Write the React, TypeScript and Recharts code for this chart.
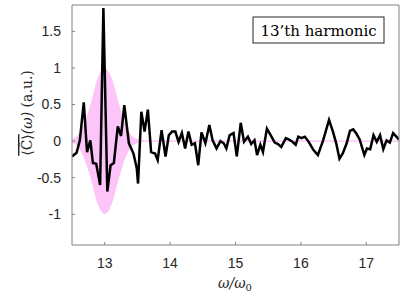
import * as React from "react";
import { ComposedChart, Area, Line, XAxis, YAxis } from "recharts";

const W = 402;
const H = 295;

const AXIS = "#808080";
const TEXT = "#262626";
const PINK = "#fcc4f8";

// signal samples
const OMEGA = [
  12.5, 12.57, 12.62, 12.68, 12.73, 12.78, 12.82, 12.87, 12.93, 12.98,
  13.04, 13.09, 13.14, 13.2, 13.25, 13.3, 13.37, 13.44, 13.49, 13.51,
  13.56, 13.61, 13.66, 13.71, 13.77, 13.81, 13.87, 13.93, 13.98, 14.03,
  14.08, 14.13, 14.18, 14.23, 14.28, 14.33, 14.38, 14.43, 14.48, 14.54,
  14.6, 14.65, 14.71, 14.77, 14.82, 14.86, 14.91, 14.97, 15.02, 15.08,
  15.13, 15.19, 15.24, 15.29, 15.33, 15.38, 15.42, 15.48, 15.55, 15.6,
  15.65, 15.7, 15.77, 15.82, 15.87, 15.92, 15.96, 16.01, 16.06, 16.12,
  16.19, 16.26, 16.34, 16.43, 16.49, 16.54, 16.59, 16.64, 16.7, 16.75,
  16.8, 16.85, 16.9, 16.97, 17.01, 17.06, 17.11, 17.16, 17.21, 17.26,
  17.31, 17.36, 17.41, 17.46, 17.5,
];
const SIGNAL = [
  -0.21, -0.16, 0.01, 0.53, -0.15, 0.01, -0.3, -0.31, -0.6, 1.82,
  -0.69, -0.33, -0.3, 0.2, 0.07, 0.49, -0.03, -0.17, -0.37, -0.58,
  0.4, 0.13, 0.43, -0.15, -0.17, -0.26, 0.15, -0.21, 0.08, 0.13,
  0.13, -0.01, 0.11, -0.1, 0.13, -0.05, -0.03, -0.33, 0.12, -0.03,
  0.22, 0.01, -0.1, 0.0, -0.03, -0.1, 0.08, 0.11, -0.21, 0.25,
  -0.01, 0.06, -0.04, 0.01, -0.19, -0.05, -0.15, 0.17, 0.06, -0.02,
  -0.04, -0.08, 0.04, 0.02, -0.01, -0.05, 0.06, 0.04, 0.06, -0.01,
  -0.12, -0.19, 0.01, 0.29, 0.13, -0.03, -0.24, -0.17, -0.03, 0.14,
  0.16, 0.1, 0.02, -0.19, -0.1, -0.11, 0.08, -0.01, 0.08, -0.11,
  0.01, -0.02, 0.11, 0.06, 0.02,
];

// envelope half-height of the pink band
const ENV_OMEGA = [12.5, 12.6, 12.7, 12.8, 12.9, 13.0, 13.1, 13.2, 13.3, 13.4, 13.5, 13.6, 17.5];
const ENV_AMP = [0.02, 0.08, 0.25, 0.53, 0.86, 0.99, 0.86, 0.54, 0.25, 0.08, 0.02, 0, 0];

const X_TICKS = [13, 14, 15, 16, 17];
const Y_TICKS = [-1, -0.5, 0, 0.5, 1, 1.5];

const sigData = OMEGA.map((w, i) => ({ w, c: SIGNAL[i] }));
const envData = ENV_OMEGA.map((w, i) => ({ w, band: [-ENV_AMP[i], ENV_AMP[i]] }));

const tickFont = { fill: TEXT, fontSize: 14, fontFamily: "'Liberation Sans', Arial, sans-serif" };
const serif = "'DejaVu Serif', 'Liberation Serif', serif";

export default function App(): React.ReactElement {
  return (
    <div style={{ position: "absolute", left: 0, top: 0, width: W, height: H, background: "#fff" }}>
      <ComposedChart width={W} height={H} margin={{ top: 4, right: 2, bottom: 0, left: 0 }}>
        <XAxis
          xAxisId={0}
          dataKey="w"
          type="number"
          domain={[12.5, 17.5]}
          ticks={X_TICKS}
          allowDataOverflow
          height={50}
          tickSize={-3}
          tickMargin={16}
          tick={tickFont}
          stroke={AXIS}
        />
        <XAxis
          xAxisId="top"
          orientation="top"
          dataKey="w"
          type="number"
          domain={[12.5, 17.5]}
          ticks={X_TICKS}
          height={1}
          tickSize={-3}
          tickFormatter={() => ""}
          stroke={AXIS}
        />
        <YAxis
          yAxisId={0}
          type="number"
          domain={[-1.42, 1.86]}
          ticks={Y_TICKS}
          allowDataOverflow
          width={72}
          tickSize={-3}
          tickMargin={14}
          tick={tickFont}
          stroke={AXIS}
        />
        <YAxis
          yAxisId="right"
          orientation="right"
          type="number"
          domain={[-1.42, 1.86]}
          ticks={Y_TICKS}
          width={1}
          tickSize={-3}
          tickFormatter={() => ""}
          stroke={AXIS}
        />
        <Area
          data={envData}
          dataKey="band"
          type="monotone"
          fill={PINK}
          fillOpacity={1}
          stroke={PINK}
          strokeWidth={1}
          isAnimationActive={false}
        />
        <Line
          data={sigData}
          dataKey="c"
          type="linear"
          stroke="#000"
          strokeWidth={2.5}
          dot={false}
          isAnimationActive={false}
        />
      </ComposedChart>
      <svg
        width={W}
        height={H}
        style={{ position: "absolute", left: 0, top: 0, pointerEvents: "none" }}
      >
        <rect x={253} y={17} width={131} height={26} fill="#fff" stroke={TEXT} strokeWidth={1} />
        <text x={318.5} y={35.5} textAnchor="middle" fontFamily={serif} fontSize={15} fill="#000">
          13’th harmonic
        </text>
        <text x={235} y={288} textAnchor="middle" fontFamily={serif} fontSize={14} fontStyle="italic" fill={TEXT}>
          ω/ω<tspan fontSize={10} dy={3} fontStyle="normal">0</tspan>
        </text>
        <text
          x={0}
          y={0}
          transform="translate(32 113) rotate(-90)"
          textAnchor="middle"
          fontFamily={serif}
          fontSize={14}
          fill={TEXT}
        >
          <tspan style={{ textDecoration: "overline" }}>⟨Ĉ⟩</tspan>
          <tspan fontStyle="italic">(ω)</tspan>
          <tspan> (a.u.)</tspan>
        </text>
      </svg>
    </div>
  );
}
